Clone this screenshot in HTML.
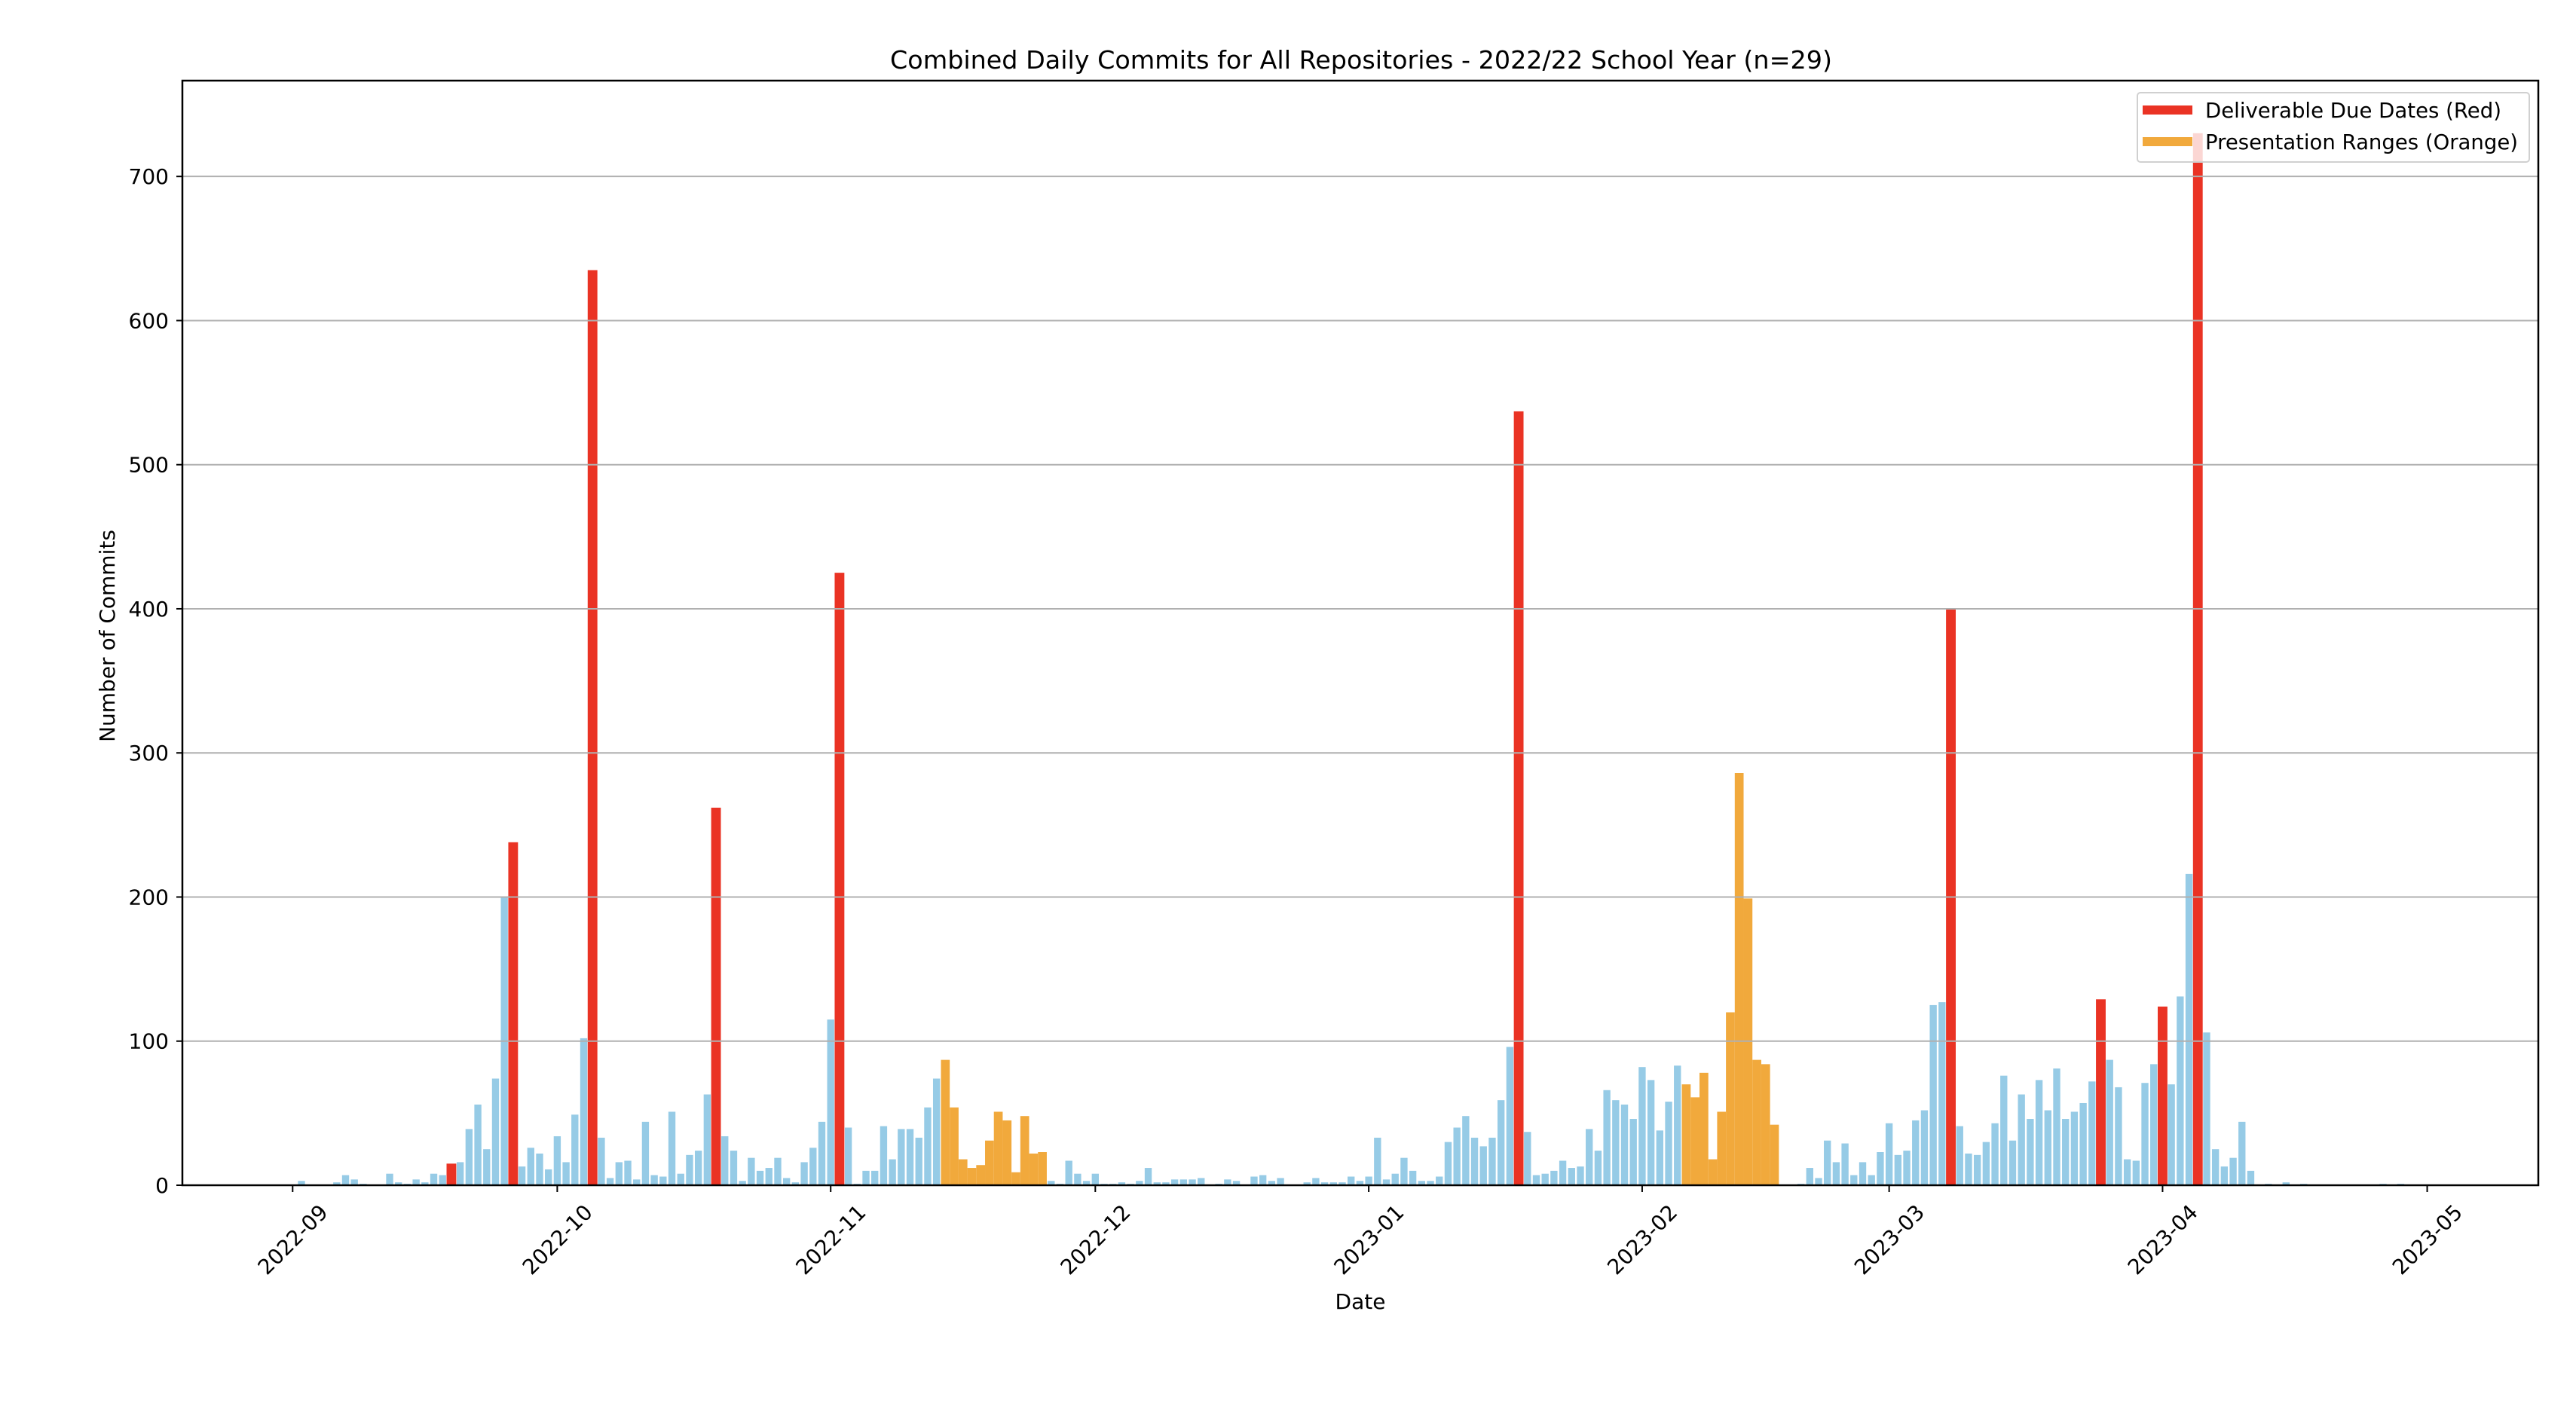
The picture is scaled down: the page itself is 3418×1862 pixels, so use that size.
<!DOCTYPE html>
<html><head><meta charset="utf-8"><style>
html,body{margin:0;padding:0;background:#fff}
svg{display:block;font-family:"DejaVu Sans","Liberation Sans",sans-serif}
</style></head><body>
<svg id="chart" width="3418" height="1862" viewBox="0 0 3418 1862" xmlns="http://www.w3.org/2000/svg">
<rect width="3418" height="1862" fill="#fff"/>
<text x="1181" y="91" font-size="33" textLength="1250" lengthAdjust="spacingAndGlyphs">Combined Daily Commits for All Repositories - 2022/22 School Year (n=29)</text>
<g id="bars"></g>
<g id="grid"></g>
<g id="axes"></g>
<text transform="translate(152,844) rotate(-90)" font-size="28" text-anchor="middle">Number of Commits</text>
<text x="1805" y="1737" font-size="28" text-anchor="middle">Date</text>
<g>
<rect x="2836" y="123" width="520" height="92" rx="4" fill="rgba(255,255,255,0.8)" stroke="#d0d0d0" stroke-width="2"/>
<line x1="2843" y1="146" x2="2909" y2="146" stroke="#EA3324" stroke-width="12"/>
<text x="2926" y="156" font-size="28" textLength="393" lengthAdjust="spacingAndGlyphs">Deliverable Due Dates (Red)</text>
<line x1="2843" y1="188" x2="2909" y2="188" stroke="#F1A93C" stroke-width="12"/>
<text x="2926" y="198" font-size="28" textLength="415" lengthAdjust="spacingAndGlyphs">Presentation Ranges (Orange)</text>
</g>
</svg>
<script>
const startDate = "2022-09-01";
const commits = [0,3,0,0,0,2,7,4,1,0,0,8,2,1,4,2,8,7,15,16,39,56,25,74,200,238,13,26,22,11,
34,16,49,102,635,33,5,16,17,4,44,7,6,51,8,21,24,63,262,34,24,3,19,10,12,19,5,2,16,26,
44,115,425,40,1,10,10,41,18,39,39,33,54,74,87,54,18,12,14,31,51,45,9,48,22,23,3,1,17,8,
3,8,1,1,2,1,3,12,2,2,4,4,4,5,0,1,4,3,0,6,7,3,5,0,0,2,5,2,2,2,
6,3,6,33,4,8,19,10,3,3,6,30,40,48,33,27,33,59,96,537,37,7,8,10,17,12,13,39,24,66,
59,56,46,82,73,38,58,83,70,61,78,18,51,120,286,199,87,84,42,0,0,1,12,5,31,16,29,7,16,7,
23,43,21,24,45,52,125,127,400,41,22,21,30,43,76,31,63,46,73,52,81,46,51,57,72,129,87,68,18,17,
71,84,124,70,131,216,730,106,25,13,19,44,10,0,1,0,2,0,1,0,0,0,0,0,0,0,0,1,0,1,0,0,0];
const dueDays = [18,25,34,48,62,139,188,205,212,216];
const presentationStarts = [74,158];
const presentationEnds = [85,168];
const yTicks = [0,100,200,300,400,500,600,700];
const xTickLabels = ["2022-09","2022-10","2022-11","2022-12","2023-01","2023-02","2023-03","2023-04","2023-05"];

const NS="http://www.w3.org/2000/svg";
const L=242,R=3368,T=107,B=1573;
const xMin=-12.5,xMax=254.6,yMax=766.5;
const x=d=>L+(d-xMin)/(xMax-xMin)*(R-L);
const y=v=>B-v/yMax*(B-T);
const dayW=(R-L)/(xMax-xMin);
const t0=Date.parse(startDate+"T00:00:00Z");
const dayOf=s=>Math.round((Date.parse(s+"-01T00:00:00Z")-t0)/86400000);
function mk(tag,attrs,parent){const e=document.createElementNS(NS,tag);for(const k in attrs)e.setAttribute(k,attrs[k]);parent.appendChild(e);return e;}
const bars=document.getElementById('bars');
commits.forEach((v,d)=>{
  if(v<=0)return;
  let color="#96CBE6",w=0.8,name="bar-commit";
  if(dueDays.includes(d)){color="#EA3324";w=1.1;name="bar-due-date";}
  else if(presentationStarts.some((s,i)=>d>=s&&d<=presentationEnds[i])){color="#F1A93C";w=1.0;name="bar-presentation";}
  const r=mk('rect',{x:x(d)-w*dayW/2,y:y(v),width:w*dayW,height:B-y(v),fill:color},bars);
  
  
});
const grid=document.getElementById('grid'),axes=document.getElementById('axes');
yTicks.forEach(v=>{
  if(v>0){const g=mk('line',{x1:L,x2:R,y1:y(v),y2:y(v),stroke:"#b0b0b0","stroke-width":2},grid);
  
  }
  const tk=mk('line',{x1:L-8,x2:L,y1:y(v),y2:y(v),stroke:"#000","stroke-width":2},axes);
  
  
  const t=mk('text',{x:L-18,y:y(v)+10,"font-size":28,"text-anchor":"end"},axes);
  t.textContent=v;
  
  
});
xTickLabels.forEach(s=>{
  const px=x(dayOf(s));
  const tk=mk('line',{x1:px,x2:px,y1:B,y2:B+9,stroke:"#000","stroke-width":2},axes);
  
  
  const t=mk('text',{x:0,y:10,"font-size":28,"text-anchor":"middle",transform:`translate(${px},1645) rotate(-45)`},axes);
  t.textContent=s;
  
  
});
const frame=mk('rect',{x:L,y:T,width:R-L,height:B-T,fill:"none",stroke:"#000","stroke-width":2.5},axes);


</script>
</body></html>
